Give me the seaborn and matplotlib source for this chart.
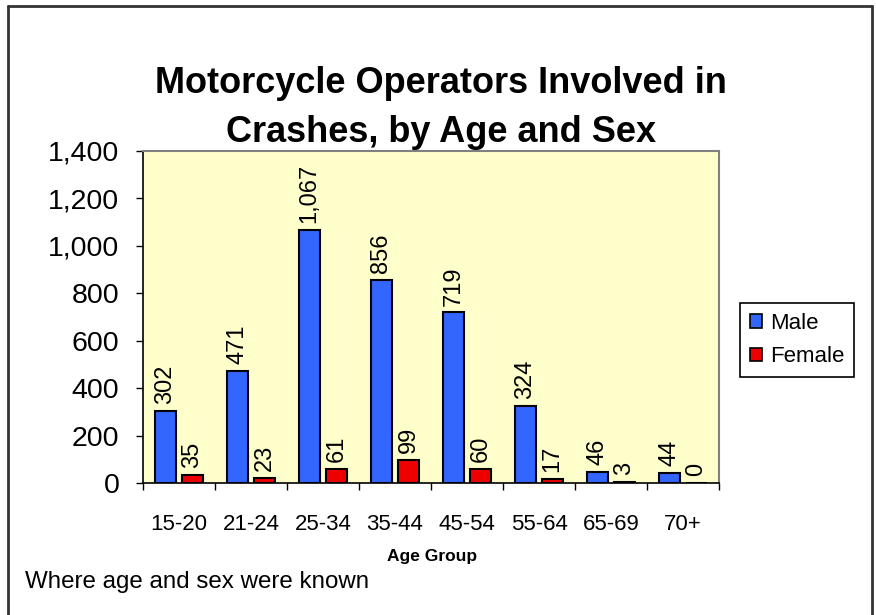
import numpy as np
import pandas as pd
import matplotlib
matplotlib.use("Agg")
import matplotlib.pyplot as plt
from matplotlib.lines import Line2D
from matplotlib.patches import Patch
import seaborn as sns

age_groups = ["15-20", "21-24", "25-34", "35-44", "45-54", "55-64", "65-69", "70+"]
male = [302, 471, 1067, 856, 719, 324, 46, 44]
female = [35, 23, 61, 99, 60, 17, 3, 0]
y_ticks = [0, 200, 400, 600, 800, 1000, 1200, 1400]

df = pd.DataFrame({
    "age": age_groups * 2,
    "count": male + female,
    "sex": ["Male"] * len(male) + ["Female"] * len(female),
})

sns.set_theme(style="ticks")
plt.rcParams["font.family"] = ["Liberation Sans", "DejaVu Sans"]
plt.rcParams["text.color"] = "black"
plt.rcParams["xtick.color"] = "black"
plt.rcParams["ytick.color"] = "black"

colors = {"Male": "#3366FF", "Female": "#EE0000"}

fig = plt.figure(figsize=(8.76, 6.15), dpi=100)
ax = fig.add_axes([143 / 876, 1 - 483 / 615, 576 / 876, 332 / 615])
ax.set_facecolor("#FFFFCC")

sns.barplot(data=df, x="age", y="count", hue="sex", order=age_groups,
            hue_order=["Male", "Female"], palette=colors, width=0.75, gap=0.187,
            edgecolor="black", linewidth=1.5, saturation=1, ax=ax, legend=False)

for cont in ax.containers:
    ax.bar_label(cont, labels=[f"{v:,.0f}" for v in cont.datavalues],
                 rotation=90, padding=5, fontsize=17, color="black")

ax.set_ylim(0, 1400)
ax.set_yticks(y_ticks)
ax.set_yticklabels([f"{v:,}" for v in y_ticks], fontsize=20.5)
ax.set_xlim(-0.5, len(age_groups) - 0.5)
ax.tick_params(axis="x", length=0, labelsize=16, pad=22)
ax.set_xticks(np.arange(-0.5, len(age_groups)), minor=True)
ax.tick_params(axis="x", which="minor", length=5, width=1, color="black", direction="out")
ax.tick_params(axis="y", length=5, width=1, color="black", direction="out", pad=12)
ax.set_xlabel("")
ax.set_ylabel("")

for side in ["left", "bottom"]:
    ax.spines[side].set_color("black")
    ax.spines[side].set_linewidth(1.2)
for side in ["top", "right"]:
    ax.spines[side].set_visible(True)
    ax.spines[side].set_color("#808080")
    ax.spines[side].set_linewidth(1.5)

fig.text(0.503, 1 - 108 / 615, "Motorcycle Operators Involved in\nCrashes, by Age and Sex",
         ha="center", va="center", fontsize=26, fontweight="bold", linespacing=1.5)
fig.text(432 / 876, 1 - 556 / 615, "Age Group", ha="center", va="center",
         fontsize=12.5, fontweight="bold")
fig.text(25 / 876, 1 - 582 / 615, "Where age and sex were known", ha="left",
         va="center", fontsize=17.4)

handles = [Patch(facecolor=colors[s], edgecolor="black", linewidth=1.2, label=s)
           for s in ["Male", "Female"]]
leg = fig.legend(handles=handles, loc="upper left", bbox_to_anchor=(740 / 876, 1 - 303 / 615),
                 bbox_transform=fig.transFigure, fontsize=16, fancybox=False,
                 handlelength=0.55, handleheight=0.55, handletextpad=0.35,
                 borderpad=0.45, labelspacing=0.55, borderaxespad=0, framealpha=1)
leg.get_frame().set_edgecolor("black")
leg.get_frame().set_linewidth(1.2)

# outer chart border (top, left, right)
fig.add_artist(Line2D([8 / 876, 872 / 876], [1 - 6 / 615, 1 - 6 / 615],
                      transform=fig.transFigure, color="#333333", lw=2))
fig.add_artist(Line2D([8 / 876, 8 / 876], [1 - 6 / 615, 0],
                      transform=fig.transFigure, color="#333333", lw=2))
fig.add_artist(Line2D([872 / 876, 872 / 876], [1 - 6 / 615, 0],
                      transform=fig.transFigure, color="#333333", lw=2))

fig.savefig("out.png", dpi=100, facecolor="white")
